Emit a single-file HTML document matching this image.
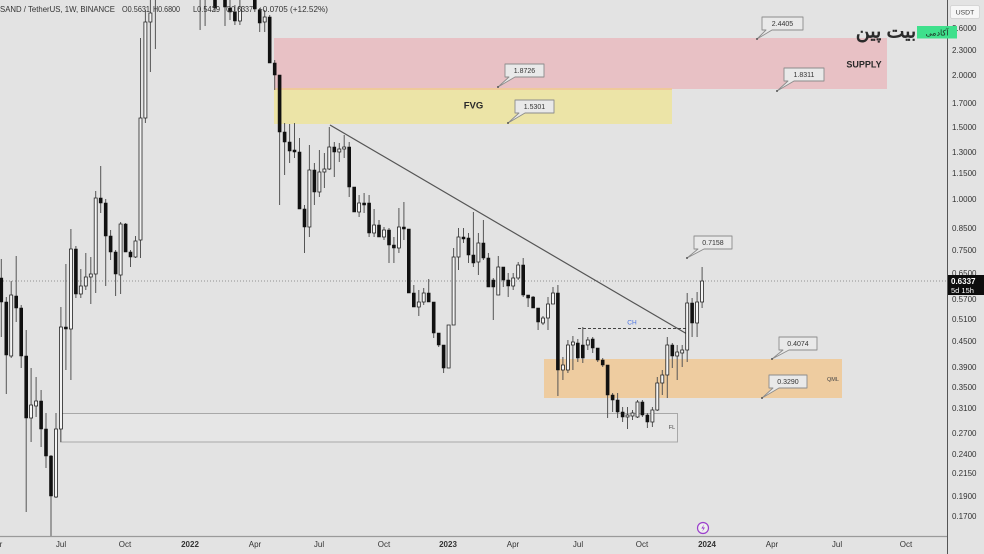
<!DOCTYPE html>
<html><head><meta charset="utf-8"><style>
html,body{margin:0;padding:0;background:#e3e3e3;}
svg{display:block;}
text{font-family:"Liberation Sans",sans-serif;}
</style></head><body>
<svg width="984" height="554" viewBox="0 0 984 554" xmlns="http://www.w3.org/2000/svg">
<rect x="0" y="0" width="984" height="554" fill="#e3e3e3"/>

<!-- zones -->
<rect x="274" y="38" width="613" height="51" fill="#e8c1c5"/>
<rect x="274" y="89" width="398" height="35" fill="#ece4a7"/>
<rect x="274" y="88" width="398" height="2" fill="#efc99a"/>
<rect x="544" y="359" width="298" height="39" fill="#eecca0"/>
<rect x="60.5" y="413.5" width="617" height="28.5" fill="#e6e6e6" stroke="#a8a8a8" stroke-width="1"/>

<!-- dotted current price line -->
<line x1="0" y1="281" x2="947" y2="281" stroke="#777" stroke-width="0.8" stroke-dasharray="1 2"/>

<!-- trendline & CH -->
<line x1="330" y1="125" x2="687" y2="334" stroke="#555" stroke-width="1.2"/>
<line x1="578" y1="328.5" x2="687" y2="328.5" stroke="#444" stroke-width="0.9" stroke-dasharray="3 2"/>

<!-- wicks -->
<path fill="none" stroke="#555" stroke-width="1" d="M1.3 259V337 M6.3 297V394 M11.2 281V358 M16.2 256V322 M21.2 305V368 M26.2 330V512 M31.1 368V442 M36.1 377V417 M41.1 390V447 M46 413V468 M51 455V537 M56 413V498 M60.9 307V442 M65.9 264V370 M70.9 229V380 M75.9 246V298 M80.8 269V298 M85.8 253V290 M90.8 257V304 M95.7 191V293 M100.7 166V213 M105.7 199V286 M110.6 230V260 M115.6 250V296 M120.6 222V294 M125.6 223V252 M130.5 250V267 M135.5 236V258 M140.5 38V258 M145.4 10V123 M150.4 0V72 M155.4 0V49 M200.1 0V30 M205.1 0V26 M215 0V12 M225 0V26 M230 0V20 M234.9 5V25 M239.9 0V25 M254.8 0V12 M259.7 8V32 M264.7 10V32 M269.7 15V63 M274.7 60V90 M279.6 75V205 M284.6 123V175 M289.6 124V163 M294.5 123V158 M299.5 138V209 M304.5 205V253 M309.4 145V237 M314.4 163V205 M319.4 150V197 M324.4 153V188 M329.3 127V170 M334.3 142V177 M339.3 143V162 M344.2 135V158 M349.2 142V197 M354.2 187V212 M359.1 195V217 M364.1 193V213 M369.1 195V237 M374.1 209V237 M379 220V237 M384 227V240 M389 228V263 M393.9 237V263 M398.9 208V253 M403.9 202V240 M408.8 229V293 M413.8 285V307 M418.8 290V316 M423.7 288V305 M428.7 279V302 M433.7 302V338 M438.7 333V347 M443.6 345V373 M448.6 325V368 M453.6 248V325 M458.5 228V270 M463.5 228V243 M468.5 233V263 M473.4 212V267 M478.4 233V275 M483.4 220V260 M488.4 253V287 M493.3 278V320 M498.3 256V295 M503.3 267V287 M508.2 273V297 M513.2 273V290 M518.2 262V280 M523.2 258V297 M528.1 295V307 M533.1 296V308 M538.1 308V330 M543 316V325 M548 297V330 M553 287V304 M557.9 285V396 M562.9 357V380 M567.9 340V373 M572.9 336V370 M577.8 339V362 M582.8 327V363 M587.8 337V350 M592.7 337V353 M597.7 348V362 M602.7 358V367 M607.6 365V418 M612.6 393V412 M617.6 393V418 M622.6 407V422 M627.5 407V429 M632.5 410V420 M637.5 400V418 M642.4 400V417 M647.4 413V428 M652.4 407V427 M657.3 377V411 M662.3 370V395 M667.3 337V398 M672.3 343V368 M677.2 345V380 M682.2 345V367 M687.2 293V362 M692.1 298V337 M697.1 292V337 M702.1 267V308"/>

<!-- black bodies -->
<path fill="#111" stroke="#111" stroke-width="0.6" d="M-0.2 278h3V302h-3Z M4.8 302h3V355h-3Z M14.7 296h3V308h-3Z M19.7 308h3V356h-3Z M24.7 356h3V418h-3Z M39.6 401h3V429h-3Z M44.5 429h3V456h-3Z M49.5 456h3V496h-3Z M64.4 327h3V329h-3Z M74.4 249h3V294h-3Z M99.2 198h3V203h-3Z M104.2 203h3V236h-3Z M109.1 236h3V252h-3Z M114.1 252h3V274h-3Z M124.1 224h3V252h-3Z M129 252h3V257h-3Z M213.5 0h3V8h-3Z M223.5 0h3V7h-3Z M228.5 8h3V12h-3Z M233.4 12h3V21h-3Z M253.3 0h3V9h-3Z M258.2 10h3V23h-3Z M268.2 17h3V63h-3Z M273.2 63h3V75h-3Z M278.1 75h3V132h-3Z M283.1 132h3V142h-3Z M288.1 142h3V151h-3Z M293 150h3V152h-3Z M298 152h3V209h-3Z M303 209h3V227h-3Z M312.9 170h3V192h-3Z M332.8 147h3V152h-3Z M347.7 147h3V187h-3Z M352.7 187h3V212h-3Z M362.6 203h3V205h-3Z M367.6 203h3V233h-3Z M377.5 225h3V237h-3Z M387.5 230h3V245h-3Z M392.4 245h3V248h-3Z M402.4 227h3V229h-3Z M407.3 229h3V293h-3Z M412.3 293h3V307h-3Z M427.2 293h3V302h-3Z M432.2 302h3V333h-3Z M437.2 333h3V345h-3Z M442.1 345h3V368h-3Z M462 237h3V239h-3Z M467 238h3V255h-3Z M471.9 255h3V263h-3Z M481.9 243h3V258h-3Z M486.9 258h3V287h-3Z M491.8 280h3V287h-3Z M501.8 267h3V280h-3Z M506.7 280h3V286h-3Z M521.7 265h3V295h-3Z M526.6 295h3V298h-3Z M531.6 297h3V308h-3Z M536.6 308h3V322h-3Z M556.4 293h3V370h-3Z M576.3 343h3V358h-3Z M581.3 345h3V358h-3Z M591.2 339h3V348h-3Z M596.2 348h3V360h-3Z M601.2 360h3V365h-3Z M606.1 365h3V395h-3Z M611.1 395h3V400h-3Z M616.1 400h3V412h-3Z M621.1 412h3V417h-3Z M640.9 402h3V415h-3Z M645.9 415h3V422h-3Z M670.8 345h3V356h-3Z M690.6 303h3V323h-3Z"/>

<!-- white bodies -->
<path fill="#f4f4f4" stroke="#222" stroke-width="0.8" d="M9.7 295h3V356h-3Z M29.6 405h3V418h-3Z M34.6 401h3V406h-3Z M54.5 429h3V497h-3Z M59.4 327h3V429h-3Z M69.4 249h3V329h-3Z M79.3 286h3V294h-3Z M84.3 277h3V286h-3Z M89.3 274h3V277h-3Z M94.2 198h3V274h-3Z M119.1 224h3V275h-3Z M134 241h3V257h-3Z M139 118h3V240h-3Z M143.9 22h3V118h-3Z M148.9 13h3V22h-3Z M238.4 7h3V21h-3Z M263.2 17h3V22h-3Z M307.9 170h3V227h-3Z M317.9 172h3V192h-3Z M322.9 169h3V172h-3Z M327.8 147h3V169h-3Z M337.8 149h3V152h-3Z M342.7 147h3V149h-3Z M357.6 203h3V212h-3Z M372.6 225h3V233h-3Z M382.5 230h3V237h-3Z M397.4 227h3V248h-3Z M417.3 302h3V307h-3Z M422.2 293h3V302h-3Z M447.1 325h3V368h-3Z M452.1 257h3V325h-3Z M457 237h3V257h-3Z M476.9 243h3V262h-3Z M496.8 267h3V295h-3Z M511.7 278h3V286h-3Z M516.7 265h3V278h-3Z M541.5 318h3V323h-3Z M546.5 304h3V318h-3Z M551.5 293h3V304h-3Z M561.4 365h3V370h-3Z M566.4 345h3V370h-3Z M571.4 342h3V345h-3Z M586.3 340h3V345h-3Z M626 415h3V417h-3Z M631 413h3V416h-3Z M636 402h3V417h-3Z M650.9 410h3V422h-3Z M655.8 383h3V410h-3Z M660.8 375h3V383h-3Z M665.8 345h3V375h-3Z M675.7 352h3V356h-3Z M680.7 350h3V353h-3Z M685.7 303h3V350h-3Z M695.6 302h3V323h-3Z M700.6 281h3V302h-3Z"/>

<!-- header legend -->
<g font-size="8.6" fill="#333">
<text x="0" y="12" textLength="115" lengthAdjust="spacingAndGlyphs">SAND / TetherUS, 1W, BINANCE</text>
<text x="122" y="12" textLength="28" lengthAdjust="spacingAndGlyphs">O0.5631</text>
<text x="153" y="12" textLength="27" lengthAdjust="spacingAndGlyphs">H0.6800</text>
<text x="193" y="12" textLength="27" lengthAdjust="spacingAndGlyphs">L0.5429</text>
<text x="226" y="12" textLength="27" lengthAdjust="spacingAndGlyphs">C0.6337</text>
<text x="258" y="12" textLength="70" lengthAdjust="spacingAndGlyphs">+0.0705 (+12.52%)</text>
</g>

<!-- zone labels -->
<text x="864" y="67.5" font-size="9" font-weight="bold" fill="#2a2a2a" text-anchor="middle">SUPPLY</text>
<text x="473.5" y="108.5" font-size="9.5" font-weight="bold" fill="#2a2a2a" text-anchor="middle">FVG</text>
<text x="833" y="381" font-size="5.5" fill="#444" text-anchor="middle">QML</text>
<text x="672" y="429" font-size="5.5" fill="#444" text-anchor="middle">FL</text>
<text x="632" y="324.5" font-size="6.5" fill="#4a72e0" text-anchor="middle">CH</text>

<!-- callouts -->
<g fill="#e9e9e9" stroke="#8c8c8c" stroke-width="0.9" stroke-linejoin="round">
<path d="M762 17H803V30H772L757 39L766 30H762Z"/>
<path d="M784 68H824V81H794L777 91L788 81H784Z"/>
<path d="M505 64H544V77H515L498 87L509 77H505Z"/>
<path d="M515 100H554V113H525L508 123L519 113H515Z"/>
<path d="M694 236H732V249H704L687 258L698 249H694Z"/>
<path d="M779 337H817V350H789L772 359L783 350H779Z"/>
<path d="M769 375H807V388H779L762 398L773 388H769Z"/>
</g>
<g fill="#555">
<circle cx="757" cy="39" r="1"/><circle cx="777" cy="91" r="1"/><circle cx="498" cy="87" r="1"/><circle cx="508" cy="123" r="1"/><circle cx="687" cy="258" r="1"/><circle cx="772" cy="359" r="1"/><circle cx="762" cy="398" r="1"/>
</g>
<g font-size="7" fill="#333" text-anchor="middle">
<text x="782.5" y="26">2.4405</text>
<text x="804" y="77">1.8311</text>
<text x="524.5" y="73">1.8726</text>
<text x="534.5" y="109">1.5301</text>
<text x="713" y="245">0.7158</text>
<text x="798" y="346">0.4074</text>
<text x="788" y="384">0.3290</text>
</g>

<!-- axes -->
<line x1="0" y1="536.5" x2="947" y2="536.5" stroke="#9a9a9a" stroke-width="1.2"/>
<line x1="947.5" y1="0" x2="947.5" y2="554" stroke="#555" stroke-width="1"/>

<g font-size="8" fill="#333">
<text x="952" y="31">2.6000</text>
<text x="952" y="53">2.3000</text>
<text x="952" y="78">2.0000</text>
<text x="952" y="106">1.7000</text>
<text x="952" y="130">1.5000</text>
<text x="952" y="155">1.3000</text>
<text x="952" y="176">1.1500</text>
<text x="952" y="202">1.0000</text>
<text x="952" y="231">0.8500</text>
<text x="952" y="253">0.7500</text>
<text x="952" y="276">0.6500</text>
<text x="952" y="302">0.5700</text>
<text x="952" y="322">0.5100</text>
<text x="952" y="344">0.4500</text>
<text x="952" y="370">0.3900</text>
<text x="952" y="390">0.3500</text>
<text x="952" y="411">0.3100</text>
<text x="952" y="436">0.2700</text>
<text x="952" y="457">0.2400</text>
<text x="952" y="476">0.2150</text>
<text x="952" y="499">0.1900</text>
<text x="952" y="519">0.1700</text>
</g>

<!-- current price tag -->
<rect x="948" y="275" width="36" height="20" fill="#0d0d0d"/>
<text x="951" y="284" font-size="8" font-weight="bold" fill="#fff">0.6337</text>
<text x="951" y="293" font-size="7.5" fill="#fff">5d 15h</text>

<!-- USDT box -->
<rect x="950.5" y="5.5" width="29" height="13" rx="2" fill="#f7f7f7" stroke="#d0d0d0" stroke-width="0.8"/>
<text x="965" y="14.5" font-size="6.8" fill="#444" text-anchor="middle">USDT</text>

<!-- time axis -->
<g font-size="8" fill="#333" text-anchor="middle">
<text x="-4" y="547">Apr</text>
<text x="61" y="547">Jul</text>
<text x="125" y="547">Oct</text>
<text x="190" y="547" font-weight="bold">2022</text>
<text x="255" y="547">Apr</text>
<text x="319" y="547">Jul</text>
<text x="384" y="547">Oct</text>
<text x="448" y="547" font-weight="bold">2023</text>
<text x="513" y="547">Apr</text>
<text x="578" y="547">Jul</text>
<text x="642" y="547">Oct</text>
<text x="707" y="547" font-weight="bold">2024</text>
<text x="772" y="547">Apr</text>
<text x="837" y="547">Jul</text>
<text x="906" y="547">Oct</text>
</g>

<!-- lightning icon -->
<circle cx="703" cy="528" r="5.5" fill="#eeeeee" stroke="#9b3fcc" stroke-width="1.2"/>
<path d="M704 524.5L701.3 528.5H703.3L702.3 531.5L705 527.5H703Z" fill="#9b3fcc"/>

<!-- logo -->
<rect x="917" y="26" width="40" height="12.5" fill="#3fe08c"/>
<text x="937" y="35.5" font-size="8" fill="#1e2a22" text-anchor="middle" font-family="DejaVu Sans, sans-serif">آکادمی</text>
<text x="886" y="37.5" font-size="19" font-weight="bold" fill="#2b2b2b" text-anchor="middle" font-family="DejaVu Sans, sans-serif">بیت پین</text>
</svg>
</body></html>
